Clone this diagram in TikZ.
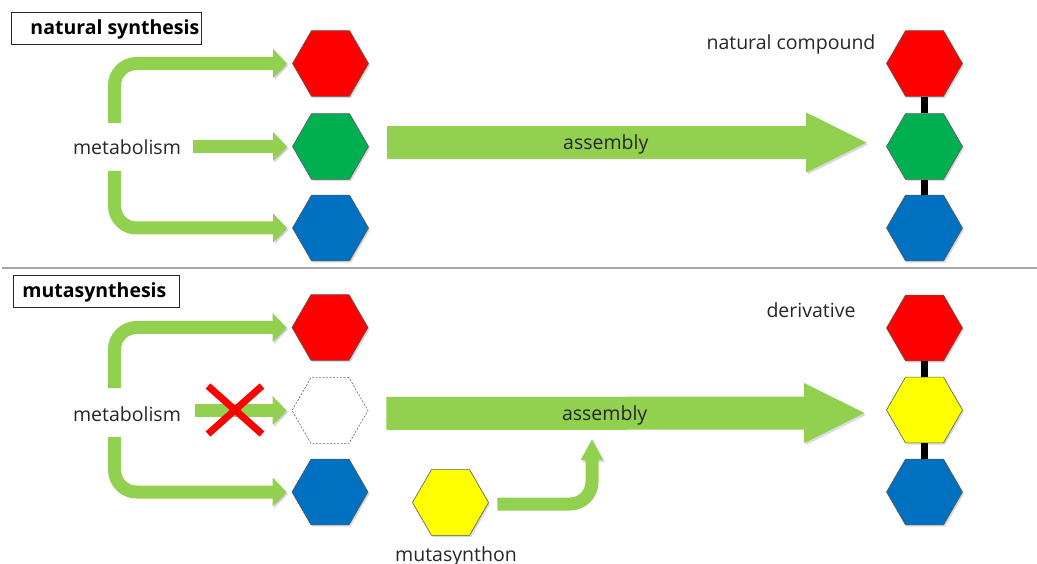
\documentclass[tikz,border=0pt]{standalone}
\usepackage{fontspec}
\setmainfont{Open Sans}
\usetikzlibrary{shapes.geometric, arrows.meta, shadows}
\definecolor{agreen}{HTML}{92D050}
\definecolor{hred}{HTML}{FF0000}
\definecolor{hgreen}{HTML}{00B050}
\definecolor{hblue}{HTML}{0070C0}
\definecolor{hyellow}{HTML}{FFFF00}
\definecolor{divgray}{HTML}{A6A6A6}
\begin{document}
\begin{tikzpicture}[x=1pt, y=-1pt,
  every node/.style={font=\fontsize{19.5}{23}\selectfont},
  hex/.style={regular polygon, regular polygon sides=6, minimum size=76pt, inner sep=0pt,
    draw=black!65, line width=0.6pt,
    drop shadow={shadow xshift=1.5pt, shadow yshift=-1.8pt, opacity=0.3}},
  emptyhex/.style={regular polygon, regular polygon sides=6, minimum size=76pt, inner sep=0pt,
    draw=black!60, line width=0.6pt, dash pattern=on 2pt off 1.5pt, fill=white},
  label/.style={inner sep=0pt, text=black!85},
  titlebox/.style={draw=black!85, line width=0.9pt, inner sep=0pt, minimum height=32pt,
    text height=22pt, text depth=10pt,
    anchor=north west, font=\fontsize{19.5}{23}\selectfont\bfseries},
  ashadow/.style={preaction={draw=black, opacity=0.15,
    transform canvas={shift={(1.5pt,-2pt)}}}},
  garrow/.style={ashadow, draw=agreen, line width=13pt, rounded corners=22pt,
    -{Triangle[length=14pt,width=28pt]}},
  sarrow/.style={ashadow, draw=agreen, line width=13pt, rounded corners=22pt,
    -{Triangle[length=21pt,width=21pt]}},
  bigarrow/.style={ashadow, draw=agreen, line width=33pt, -{Triangle[length=62pt,width=55pt]}},
  bond/.style={line width=6.5pt, draw=black},
  crossline/.style={draw=hred, line width=7pt},
]
\useasboundingbox (0,0) rectangle (1037,564);

% ---------- natural synthesis ----------
\node[titlebox, minimum width=190pt] (t1) at (11,12)
  {\makebox[190pt][l]{\hspace{19pt}natural synthesis}};

\node[hex, fill=hred]   (r1) at (330.5,63.5) {};
\node[hex, fill=hgreen] (g1) at (330.5,146.5) {};
\node[hex, fill=hblue]  (b1) at (330.5,228) {};

\node[hex, fill=hred]   (r2) at (924.5,63.5) {};
\node[hex, fill=hgreen] (g2) at (924.5,146.5) {};
\node[hex, fill=hblue]  (b2) at (924.5,228) {};
\draw[bond] (r2.south) -- (g2.north);
\draw[bond] (g2.south) -- (b2.north);

\node[label, anchor=base] (met1) at (127,155) {metabolism};
\node[label, anchor=base] (nc) at (791,50) {natural compound};

\coordinate (m1a) at (114.5,123);
\coordinate (m1b) at (193,146.5);
\coordinate (m1c) at (114.5,171);
\draw[garrow] (m1a) |- ([xshift=-5pt]r1.west);
\draw[garrow] (m1b) -- ([xshift=-5pt]g1.west);
\draw[garrow] (m1c) |- ([xshift=-5pt]b1.west);

\draw[bigarrow] ([xshift=18pt,yshift=4pt]g1.east) -- ([xshift=-18pt,yshift=4pt]g2.west)
  node[label, pos=0.455, yshift=-2pt] (as1) {assembly};

% divider
\draw[divgray, line width=1.3pt] (2,268) -- (1037,268);

% ---------- mutasynthesis ----------
\node[titlebox, minimum width=166pt] (t2) at (13,275)
  {\makebox[166pt][l]{\hspace{9pt}mutasynthesis}};

\node[hex, fill=hred]   (r3) at (330,327.5) {};
\node[emptyhex]         (d3) at (330,410.5) {};
\node[hex, fill=hblue]  (b3) at (330,492) {};

\node[hex, fill=hred]    (r4) at (924.5,328) {};
\node[hex, fill=hyellow] (y4) at (924.5,410) {};
\node[hex, fill=hblue]   (b4) at (924.5,492) {};
\draw[bond] (r4.south) -- (y4.north);
\draw[bond] (y4.south) -- (b4.north);

\node[label, anchor=base] (met2) at (127,421) {metabolism};
\node[label, anchor=base] (der) at (811,317) {derivative};

\coordinate (m2a) at (114.5,388);
\coordinate (m2b) at (195,410.5);
\coordinate (m2c) at (114.5,437);
\draw[garrow] (m2a) |- ([xshift=-5pt]r3.west);
\draw[garrow] (m2b) -- ([xshift=-5pt]d3.west);
\draw[garrow] (m2c) |- ([xshift=-5pt]b3.west);

% red cross
\coordinate (xc) at (235,410);
\draw[crossline] ([shift={(-27pt,24pt)}]xc) -- ([shift={(27pt,-24pt)}]xc);
\draw[crossline] ([shift={(-27pt,-24pt)}]xc) -- ([shift={(27pt,24pt)}]xc);

\draw[bigarrow] ([xshift=18pt,yshift=-3pt]d3.east) -- ([xshift=-20pt,yshift=-3pt]y4.west)
  node[label, pos=0.455, yshift=-2pt] (as2) {assembly};

% mutasynthon
\node[hex, fill=hyellow] (mu) at (450.5,502.5) {};
\node[label, anchor=base] (mul) at (456,561) {mutasynthon};
\coordinate (mtip) at (592,439);
\draw[sarrow] ([xshift=8.5pt,yshift=-1.5pt]mu.east) -| (mtip);
\end{tikzpicture}
\end{document}
